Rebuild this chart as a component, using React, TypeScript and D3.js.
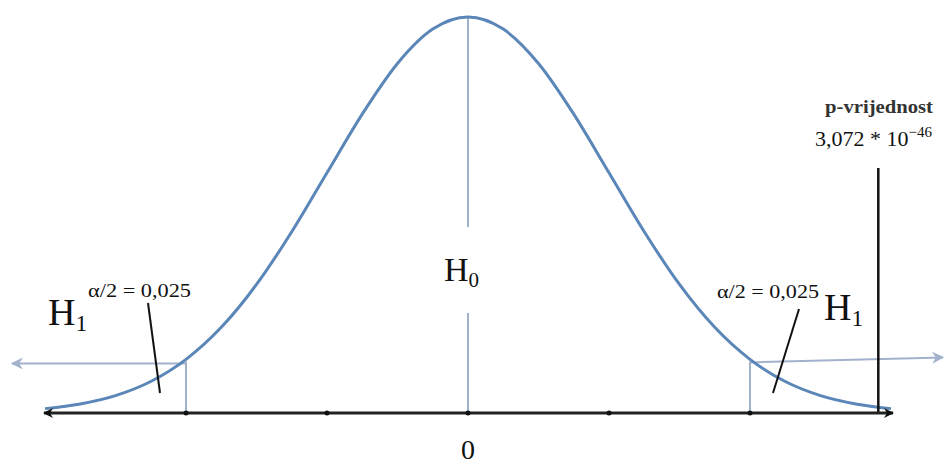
import * as d3 from "d3";
import { useEffect, useRef } from "react";

// standard normal density, read at z steps of 0.25
const zValues = [-3, -2.75, -2.5, -2.25, -2, -1.75, -1.5, -1.25, -1, -0.75, -0.5, -0.25, 0,
  0.25, 0.5, 0.75, 1, 1.25, 1.5, 1.75, 2, 2.25, 2.5, 2.75, 3];
const density = [0.0044, 0.0091, 0.0175, 0.0317, 0.054, 0.0863, 0.1295, 0.1826, 0.242, 0.3011, 0.3521, 0.3867, 0.3989,
  0.3867, 0.3521, 0.3011, 0.242, 0.1826, 0.1295, 0.0863, 0.054, 0.0317, 0.0175, 0.0091, 0.0044];
const tickZ = [-2, -1, 0, 1, 2];
const criticalZ = [-2, 2];
const pValueZ = 2.91;
const alphaLabel = "α/2 = 0,025";
const pLabel = "p-vrijednost";
const pValue = "3,072 * 10";
const pExp = "−46";

const App = () => {
  const ref = useRef<SVGSVGElement>(null);
  const width = 945;
  const height = 466;

  useEffect(() => {
    const svg = d3.select(ref.current);
    svg.selectAll("*").remove();

    const x = d3.scaleLinear().domain([-3, 3]).range([45, 891]);
    const y = d3.scaleLinear().domain([0, 0.3989]).range([413, 17]);
    const base = y(0);

    const defs = svg.append("defs");
    const marker = (id: string, color: string, w: number, h: number) => {
      defs.append("marker")
        .attr("id", id)
        .attr("viewBox", "0 0 10 10")
        .attr("refX", 9).attr("refY", 5)
        .attr("markerWidth", w).attr("markerHeight", h)
        .attr("markerUnits", "userSpaceOnUse")
        .attr("orient", "auto-start-reverse")
        .append("path")
        .attr("d", "M0,0 L10,5 L0,10 L3,5 Z")
        .attr("fill", color);
    };
    marker("arrBlack", "#111", 12, 10);
    marker("arrBlue", "#a3b2cc", 16, 12);

    const light = "#a3b2cc";

    // center line (split around H0 label)
    svg.append("line").attr("x1", x(0)).attr("x2", x(0)).attr("y1", y(0.3989)).attr("y2", 227)
      .attr("stroke", light).attr("stroke-width", 2);
    svg.append("line").attr("x1", x(0)).attr("x2", x(0)).attr("y1", 313).attr("y2", base)
      .attr("stroke", light).attr("stroke-width", 2);

    // critical lines
    criticalZ.forEach((z) => {
      const d = density[zValues.indexOf(z)];
      svg.append("line").attr("x1", x(z)).attr("x2", x(z)).attr("y1", y(d) + 2).attr("y2", base)
        .attr("stroke", light).attr("stroke-width", 2);
    });

    // rejection-region arrows
    const dl = density[zValues.indexOf(-2)];
    svg.append("line").attr("x1", x(-2)).attr("y1", y(dl) + 4).attr("x2", 12).attr("y2", y(dl) + 4)
      .attr("stroke", light).attr("stroke-width", 2).attr("marker-end", "url(#arrBlue)");
    svg.append("line").attr("x1", x(2)).attr("y1", y(dl) + 3).attr("x2", 943).attr("y2", y(dl) - 2)
      .attr("stroke", light).attr("stroke-width", 2).attr("marker-end", "url(#arrBlue)");

    // curve
    const line = d3.line<number>()
      .x((_, i) => x(zValues[i]))
      .y((d) => y(d))
      .curve(d3.curveMonotoneX);
    svg.append("path").datum(density).attr("d", line)
      .attr("fill", "none").attr("stroke", "#5b86b8").attr("stroke-width", 3);

    // p-value line
    svg.append("line").attr("x1", x(pValueZ)).attr("x2", x(pValueZ)).attr("y1", 168).attr("y2", base)
      .attr("stroke", "#111").attr("stroke-width", 2.5);

    // baseline with arrows both ends
    svg.append("line").attr("x1", 44).attr("x2", 893).attr("y1", base).attr("y2", base)
      .attr("stroke", "#222").attr("stroke-width", 3)
      .attr("marker-start", "url(#arrBlack)").attr("marker-end", "url(#arrBlack)");
    svg.selectAll(".tick").data(tickZ).enter().append("circle")
      .attr("cx", (d) => x(d)).attr("cy", base).attr("r", 2.5).attr("fill", "#111");

    // leader lines
    svg.append("line").attr("x1", 148).attr("y1", 303).attr("x2", 160).attr("y2", 393)
      .attr("stroke", "#111").attr("stroke-width", 2);
    svg.append("line").attr("x1", 799).attr("y1", 309).attr("x2", 773).attr("y2", 393)
      .attr("stroke", "#111").attr("stroke-width", 2);

    const serif = "'Liberation Serif', 'Times New Roman', serif";
    const hyp = (tx: number, ty: number, sub: string, size: number) => {
      const t = svg.append("text").attr("x", tx).attr("y", ty)
        .attr("font-family", serif).attr("font-size", size).attr("fill", "#111");
      t.append("tspan").text("H");
      t.append("tspan").attr("font-size", size * 0.62).attr("dy", size * 0.17).text(sub);
    };
    hyp(48, 325, "1", 38);
    hyp(824, 320, "1", 38);
    hyp(444, 281, "0", 34);

    svg.append("text").attr("x", 88).attr("y", 297).attr("font-family", serif)
      .attr("font-size", 19).attr("fill", "#111")
      .attr("textLength", 103).attr("lengthAdjust", "spacingAndGlyphs").text(alphaLabel);
    svg.append("text").attr("x", 717).attr("y", 298).attr("font-family", serif)
      .attr("font-size", 19).attr("fill", "#111")
      .attr("textLength", 102).attr("lengthAdjust", "spacingAndGlyphs").text(alphaLabel);

    svg.append("text").attr("x", x(0)).attr("y", 459).attr("text-anchor", "middle")
      .attr("font-family", serif).attr("font-size", 28).attr("fill", "#111").text("0");

    svg.append("text").attr("x", 825).attr("y", 113)
      .attr("font-family", serif).attr("font-weight", "bold").attr("font-size", 18)
      .attr("textLength", 108).attr("lengthAdjust", "spacingAndGlyphs")
      .attr("fill", "#333").text(pLabel);
    const pv = svg.append("text").attr("x", 815).attr("y", 146)
      .attr("font-family", serif).attr("font-size", 22).attr("fill", "#111");
    pv.append("tspan").text(pValue);
    pv.append("tspan").attr("font-size", 15).attr("dy", -9).text(pExp);
  }, []);

  return (
    <svg ref={ref} width={width} height={height}
      style={{ position: "absolute", left: 0, top: 0, background: "#fff" }} />
  );
};

export default App;
